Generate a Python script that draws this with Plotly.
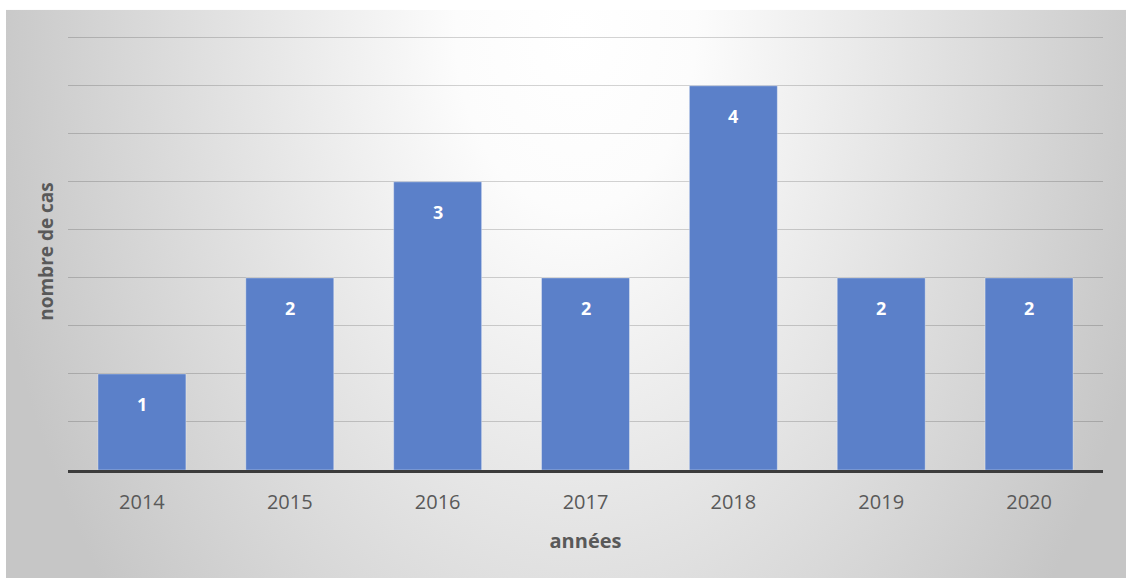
import base64
import plotly.graph_objects as go

years = ["2014", "2015", "2016", "2017", "2018", "2019", "2020"]
cases = [1, 2, 3, 2, 4, 2, 2]

W, H = 1126, 578
YMAX = 4.55
UNIT = 96  # px per case
ML, MR, MB = 68, 23, 108
PH = YMAX * UNIT
MT = H - MB - PH
PW = W - ML - MR

# radial gradient background (white top-centre, grey edges)
svg = (
    '<svg xmlns="http://www.w3.org/2000/svg" width="1120" height="568" viewBox="0 0 1120 568">'
    '<defs><radialGradient id="g" gradientUnits="userSpaceOnUse" cx="570" cy="20" r="600" '
    'gradientTransform="translate(570,20) scale(1,1.5) translate(-570,-20)">'
    '<stop offset="0" stop-color="#ffffff"/><stop offset="0.2" stop-color="#fcfcfc"/>'
    '<stop offset="1" stop-color="#c6c6c6"/></radialGradient></defs>'
    '<rect width="1120" height="568" fill="url(#g)"/></svg>'
)
src = "data:image/svg+xml;base64," + base64.b64encode(svg.encode()).decode()

fig = go.Figure()
fig.add_trace(go.Bar(
    x=years, y=cases,
    marker=dict(color="#5B80C9", line=dict(color="rgba(255,255,255,0.35)", width=1)),
    hoverinfo="skip",
))

# category axes take numeric positions for annotations (index of category)
for i, v in enumerate(cases):
    fig.add_annotation(
        x=i, y=v, text=str(v), showarrow=False, yshift=-30, yanchor="middle",
        font=dict(family="Open Sans, Lato, sans-serif", size=18, color="white", weight="bold"),
    )

img_x0 = (6 - ML) / PW
img_y1 = (H - MB - 10) / PH
fig.add_layout_image(
    source=src, xref="paper", yref="paper", x=img_x0, y=img_y1,
    sizex=1120 / PW, sizey=568 / PH, xanchor="left", yanchor="top",
    sizing="stretch", layer="below",
)

fig.update_layout(
    width=W, height=H,
    margin=dict(l=ML, r=MR, t=MT, b=MB, autoexpand=False),
    paper_bgcolor="white", plot_bgcolor="rgba(0,0,0,0)",
    bargap=0.405, showlegend=False,
    font=dict(family="Open Sans, Lato, sans-serif", color="#595959"),
    xaxis=dict(
        type="category", range=[-0.5, 6.5],
        showline=True, linecolor="#3c3c3c", linewidth=2.5,
        ticks="outside", ticklen=12, tickcolor="rgba(0,0,0,0)",
        showgrid=False, tickfont=dict(size=20, color="#595959"),
        title=dict(text="années", font=dict(size=20, color="#595959", weight="bold"), standoff=21),
    ),
    yaxis=dict(
        range=[0, YMAX], dtick=0.5, showticklabels=False, ticks="",
        showgrid=True, gridcolor="rgba(0,0,0,0.17)", gridwidth=1.2,
        zeroline=False, showline=False,
        title=dict(text="nombre de cas", font=dict(size=19, color="#595959", weight="bold"), standoff=8),
    ),
)

fig.write_html("out.html")
